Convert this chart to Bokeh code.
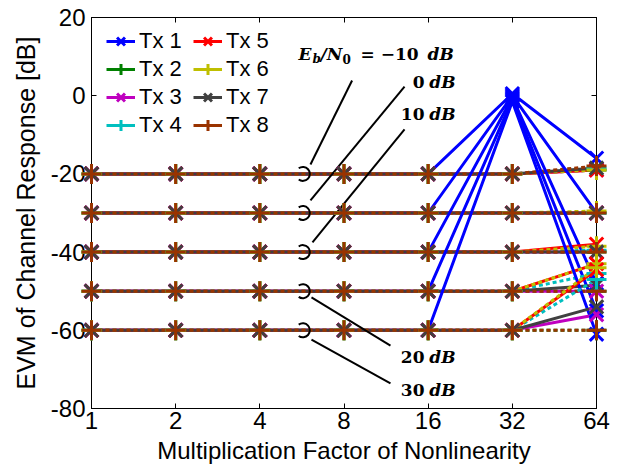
from bokeh.plotting import figure
from bokeh.models import (Legend, LegendItem, FixedTicker, LogAxis, LinearAxis,
                          Label, Range1d)
from bokeh.embed import file_html
from bokeh.resources import INLINE

# ---------------- data ----------------
x_vals = [1, 2, 4, 8, 16, 32, 64]
x_tick_labels = ["1", "2", "4", "8", "16", "32", "64"]
y_ticks = [-80, -60, -40, -20, 0, 20]
y_tick_labels = ["-80", "-60", "-40", "-20", "0", "20"]
snr_numbers = ["\u221210", "0", "10", "20", "30"]
tx_names = ["Tx 1", "Tx 2", "Tx 3", "Tx 4", "Tx 5", "Tx 6", "Tx 7", "Tx 8"]

# rows: Eb/N0 = -10, 0, 10, 20, 30 dB ; columns follow x_vals
tx1 = [[-20, -20, -20, -20, -20, 0.5, -16],
       [-30, -30, -30, -30, -30, 0, -30],
       [-40, -40, -40, -40, -40, -0.5, -48],
       [-50, -50, -50, -50, -50, -1, -55],
       [-60, -60, -60, -60, -60, -1.5, -61]]
tx2 = [[-20, -20, -20, -20, -20, -20, -19],
       [-30, -30, -30, -30, -30, -30, -30],
       [-40, -40, -40, -40, -40, -40, -40],
       [-50, -50, -50, -50, -50, -50, -50],
       [-60, -60, -60, -60, -60, -60, -60]]
tx3 = [[-20, -20, -20, -20, -20, -20, -19],
       [-30, -30, -30, -30, -30, -30, -30],
       [-40, -40, -40, -40, -40, -40, -40],
       [-50, -50, -50, -50, -50, -50, -50],
       [-60, -60, -60, -60, -60, -60, -56]]
tx4 = [[-20, -20, -20, -20, -20, -20, -18.5],
       [-30, -30, -30, -30, -30, -30, -30],
       [-40, -40, -40, -40, -40, -40, -39.5],
       [-50, -50, -50, -50, -50, -50, -45.5],
       [-60, -60, -60, -60, -60, -60, -47]]
tx5 = [[-20, -20, -20, -20, -20, -20, -19],
       [-30, -30, -30, -30, -30, -30, -30],
       [-40, -40, -40, -40, -40, -40, -38],
       [-50, -50, -50, -50, -50, -50, -43],
       [-60, -60, -60, -60, -60, -60, -44.5]]
tx6 = [[-20, -20, -20, -20, -20, -20, -19],
       [-30, -30, -30, -30, -30, -30, -29.5],
       [-40, -40, -40, -40, -40, -40, -38.5],
       [-50, -50, -50, -50, -50, -50, -43],
       [-60, -60, -60, -60, -60, -60, -44]]
tx7 = [[-20, -20, -20, -20, -20, -20, -18.5],
       [-30, -30, -30, -30, -30, -30, -30],
       [-40, -40, -40, -40, -40, -40, -40],
       [-50, -50, -50, -50, -50, -50, -48.5],
       [-60, -60, -60, -60, -60, -60, -54]]
tx8 = [[-20, -20, -20, -20, -20, -20, -18],
       [-30, -30, -30, -30, -30, -30, -30],
       [-40, -40, -40, -40, -40, -40, -40],
       [-50, -50, -50, -50, -50, -50, -50],
       [-60, -60, -60, -60, -60, -60, -60]]

tx_data = [tx1, tx2, tx3, tx4, tx5, tx6, tx7, tx8]

# ---------------- styles ----------------
colors = ["#0000ff", "#008000", "#bf00bf", "#00bfbf",
          "#ff0000", "#bfbf00", "#404040", "#993300"]
markers = ["x", "cross", "x", "cross", "x", "cross", "x", "cross"]
msizes = [19, 20, 19, 20, 19, 20, 19, 20]
dashes = ["solid", "4 3", "solid", "4 3", "solid", "4 3", "solid", "4 3"]

SANS = "Liberation Sans"
SERIF = "DejaVu Serif"

p = figure(width=622, height=471, x_axis_type="log",
           x_range=Range1d(1, 64), y_range=Range1d(-80, 20),
           output_backend="svg", toolbar_location=None,
           min_border_left=91, min_border_right=26,
           min_border_top=17, min_border_bottom=63)
p.outline_line_color = "black"
p.outline_line_width = 1
p.grid.visible = False
p.background_fill_color = "white"

p.xaxis.ticker = FixedTicker(ticks=x_vals, minor_ticks=[])
p.xaxis.major_label_overrides = {v: s for v, s in zip(x_vals, x_tick_labels)}
p.yaxis.ticker = FixedTicker(ticks=y_ticks, minor_ticks=[])
p.yaxis.major_label_overrides = {v: s for v, s in zip(y_ticks, y_tick_labels)}
p.xaxis.axis_label = "Multiplication Factor of Nonlinearity"
p.yaxis.axis_label = "EVM of Channel Response [dB]"

for ax in [p.xaxis[0], p.yaxis[0]]:
    ax.major_tick_in = 5
    ax.major_tick_out = 0
    ax.minor_tick_line_color = None
    ax.major_tick_line_color = "black"
    ax.axis_line_color = "black"
    ax.major_label_text_font = SANS
    ax.major_label_text_font_size = "24px"
    ax.major_label_text_color = "black"
    ax.axis_label_text_font = SANS
    ax.axis_label_text_font_style = "normal"
    ax.axis_label_text_color = "black"
p.xaxis.axis_label_text_font_size = "24px"
p.yaxis.axis_label_text_font_size = "25px"
p.xaxis.major_label_standoff = 3
p.xaxis.axis_label_standoff = 5
p.yaxis.major_label_standoff = 6
p.yaxis.axis_label_standoff = 8

top_ax = LogAxis(ticker=FixedTicker(ticks=x_vals, minor_ticks=[]),
                 major_label_text_font_size="0px", major_label_standoff=0,
                 major_tick_in=5, major_tick_out=0,
                 minor_tick_line_color=None, axis_line_color="black")
top_ax.major_label_overrides = {v: "" for v in x_vals}
p.add_layout(top_ax, "above")
right_ax = LinearAxis(ticker=FixedTicker(ticks=y_ticks, minor_ticks=[]),
                      major_label_text_font_size="0px", major_label_standoff=0,
                      major_tick_in=5, major_tick_out=0,
                      minor_tick_line_color=None, axis_line_color="black")
right_ax.major_label_overrides = {v: "" for v in y_ticks}
p.add_layout(right_ax, "right")

# ---------------- data lines ----------------
for s in range(len(snr_numbers)):
    for t in range(len(tx_data)):
        ys = tx_data[t][s]
        p.line(x_vals, ys, line_color=colors[t], line_width=3,
               line_dash=dashes[t])
        p.scatter(x_vals, ys, marker=markers[t], size=msizes[t],
                  line_color=colors[t], line_width=3, level="overlay")

# ---------------- legend (two columns) ----------------
nan = float("nan")
items = []
for t in range(len(tx_names)):
    lr = p.line([nan], [nan], line_color=colors[t], line_width=3)
    sr = p.scatter([nan], [nan], marker=markers[t], size=msizes[t],
                   line_color=colors[t], line_width=3)
    items.append(LegendItem(label=tx_names[t], renderers=[lr, sr]))

def make_legend(its, loc):
    return Legend(items=its, location=loc, border_line_color=None,
                  background_fill_alpha=0, padding=0, margin=0, spacing=0,
                  glyph_width=29, glyph_height=28, label_height=28,
                  label_standoff=4, label_text_font=SANS,
                  label_text_font_size="22px", label_text_color="black")

p.add_layout(make_legend(items[:4], (15, 269)))
p.add_layout(make_legend(items[4:], (102, 269)))

# ---------------- Eb/N0 annotations ----------------
arc_levels = [row[0] for row in tx1]
p.arc(x=[5.7] * len(arc_levels), y=arc_levels, radius=7, radius_units="screen",
      start_angle=-2.2, end_angle=2.2, line_color="black", line_width=2)

seg_x0 = [8.55, 13.17, 13.17, 6.12, 6.12]
seg_y0 = [3.9, 2.35, -8.6, -51.6, -62.4]
seg_x1 = [6.07, 6.07, 6.17, 11.73, 11.73]
seg_y1 = [-17.6, -26.8, -37.5, -63.9, -73.6]
p.segment(x0=seg_x0, y0=seg_y0, x1=seg_x1, y1=seg_y1,
          line_color="black", line_width=2)

def lab(text, x, y, xo=0, yo=0, size="17px", style="bold italic", align="left"):
    p.add_layout(Label(x=x, y=y, x_offset=xo, y_offset=yo, text=text,
                       text_font=SERIF, text_font_size=size,
                       text_font_style=style, text_align=align,
                       text_baseline="middle", text_color="black"))

# first label: E_b/N_0 = -10 dB
ex, ey = 5.5, 10.7
lab("E", ex, ey, 0, 0)
lab("b", ex, ey, 14, -5, size="12px")
lab("/N", ex, ey, 22, 0)
lab("0", ex, ey, 44, -5, size="12px", style="bold")
lab("= " + snr_numbers[0], ex, ey, 62, 0, style="bold")
lab("dB", ex, ey, 129, 0)

ax_r = 20.04
label_y = [3.5, -4.7, -66.8, -75.3]
for num, yy in zip(snr_numbers[1:], label_y):
    lab(num, ax_r, yy, -31, 0, style="bold", align="right")
    lab("dB", ax_r, yy, 0, 0, align="right")

open("out.html", "w").write(file_html(p, INLINE))
